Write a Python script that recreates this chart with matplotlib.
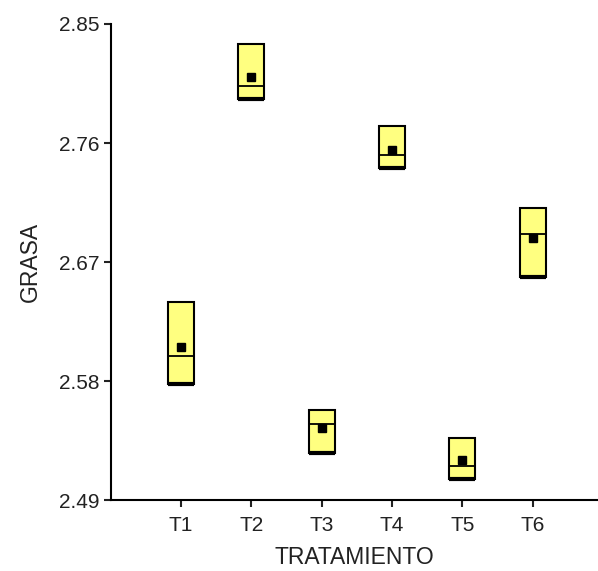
import matplotlib.pyplot as plt
from matplotlib.patches import Rectangle

plt.rcParams['font.family'] = ['Liberation Sans', 'DejaVu Sans']

tratamientos = ['T1', 'T2', 'T3', 'T4', 'T5', 'T6']
q_bajo = [2.578, 2.793, 2.526, 2.7415, 2.506, 2.659]
q_alto = [2.640, 2.835, 2.5585, 2.773, 2.537, 2.711]
mediana = [2.599, 2.8035, 2.548, 2.751, 2.516, 2.6916]
media = [2.606, 2.810, 2.545, 2.755, 2.5206, 2.688]
yticks = [2.49, 2.58, 2.67, 2.76, 2.85]

fig = plt.figure(figsize=(5.98, 5.71), dpi=100)
ax = fig.add_axes([0.1848, 0.1235, 0.8152, 0.8345])

ancho = 0.37
for i in range(len(tratamientos)):
    x = i + 1
    ax.add_patch(Rectangle((x - ancho / 2, q_bajo[i]), ancho, q_alto[i] - q_bajo[i],
                           facecolor='#ffff80', edgecolor='black', linewidth=1.5, zorder=2))
    ax.plot([x - ancho / 2, x + ancho / 2], [mediana[i], mediana[i]], color='black', lw=1.3, zorder=3)
    ax.plot([x - ancho / 2, x + ancho / 2], [q_bajo[i], q_bajo[i]], color='black', lw=3, zorder=3,
            solid_capstyle='butt')
    ax.plot(x, media[i], marker='s', color='black', markersize=6, zorder=4)

ax.set_xlim(0, 6.93)
ax.set_ylim(2.49, 2.85)
ax.set_xticks(range(1, 7))
ax.set_xticklabels(tratamientos)
ax.set_yticks(yticks)
ax.set_yticklabels(['%.2f' % v for v in yticks])
ax.spines['top'].set_visible(False)
ax.spines['right'].set_visible(False)
ax.spines['left'].set_linewidth(1.5)
ax.spines['bottom'].set_linewidth(1.5)
ax.tick_params(axis='both', length=5, width=1.5, labelsize=15, color='#222222', labelcolor='#222222')
ax.tick_params(axis='x', pad=6)
ax.tick_params(axis='y', pad=3)
ax.set_xlabel('TRATAMIENTO', fontsize=16.5, labelpad=8, color='#222222')
ax.set_ylabel('GRASA', fontsize=16.5, labelpad=12, color='#222222')

fig.savefig('out.png')
